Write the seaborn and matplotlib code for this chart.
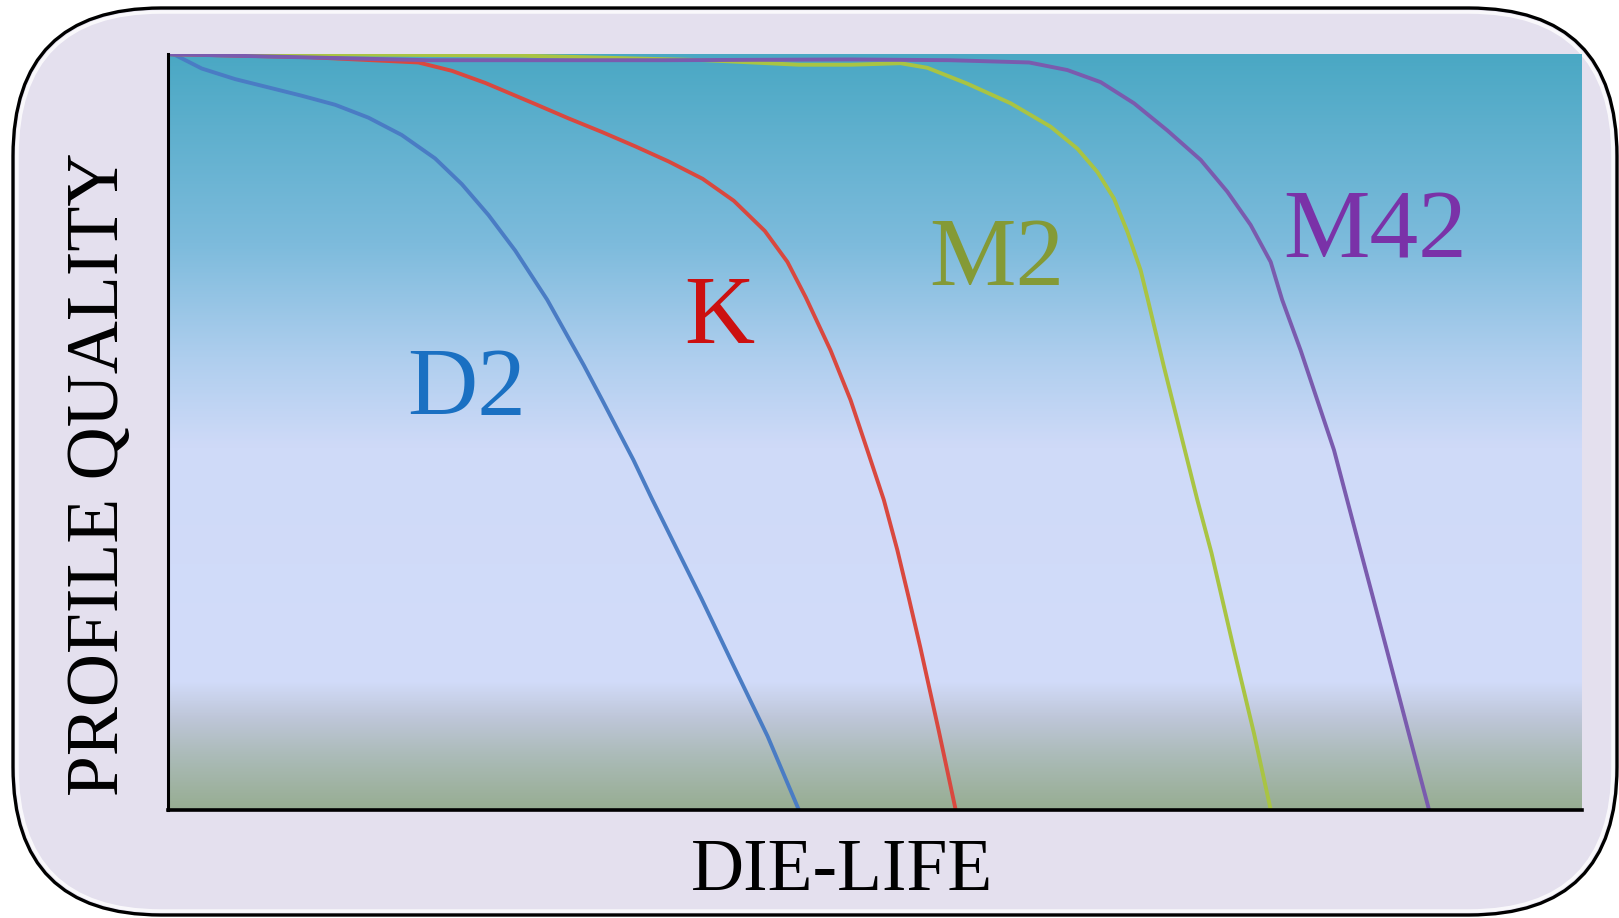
import numpy as np
import pandas as pd
import matplotlib
matplotlib.use("Agg")
import matplotlib.pyplot as plt
import seaborn as sns
from matplotlib.colors import LinearSegmentedColormap
from matplotlib.patches import FancyBboxPatch
from matplotlib.transforms import IdentityTransform

# die life (x) vs profile quality (y), both 0..100
d2_x = [0, 0.47, 2.36, 4.72, 7.08, 9.43, 11.8, 14.15, 16.51, 18.87, 20.76, 22.65, 24.54,
        26.8, 29.4, 30.7, 32.9, 34.2, 36.0, 37.7, 40.0, 42.4, 44.6]
d2_y = [100, 99.9, 98.1, 96.7, 95.6, 94.5, 93.3, 91.6, 89.3, 86.2, 82.8, 78.7, 74.0,
        67.5, 58.8, 54.2, 46.3, 41.2, 34.4, 28.0, 19.0, 9.7, 0]

k_x = [0, 10, 17.69, 20.05, 22.41, 25.95, 28.31, 30.67, 33.03, 35.39, 37.8, 40.0, 42.2,
       43.8, 45.1, 46.85, 48.27, 49.45, 50.62, 51.57, 52.39, 53.2, 54.5, 55.7]
k_y = [100, 99.6, 98.9, 97.8, 96.2, 93.4, 91.5, 89.7, 87.8, 85.8, 83.5, 80.6, 76.6,
       72.5, 67.8, 60.8, 54.2, 47.6, 41.0, 34.4, 28.0, 21.5, 10.5, 0]

m2_x = [0, 10, 25, 38, 44.6, 48.3, 51.8, 53.69, 56.52, 59.59, 62.42, 64.31, 65.73, 66.9,
        67.85, 68.79, 69.3, 70.44, 71.62, 72.8, 73.8, 75.39, 76.81, 77.99]
m2_y = [100, 100, 99.8, 99.2, 98.6, 98.6, 98.8, 98.2, 96.1, 93.5, 90.4, 87.5, 84.4, 80.9,
        76.5, 71.4, 67.5, 58.6, 49.8, 41.0, 34.0, 21.2, 10.1, 0]

m42_x = [0, 18.4, 35, 48.27, 55.3, 60.9, 63.6, 65.96, 68.32, 70.68, 73.04, 74.92, 76.57,
         77.99, 78.8, 80.11, 81.29, 82.47, 83.4, 84.33, 85.24, 86.2, 87.76, 89.19]
m42_y = [100, 99.2, 99.2, 99.3, 99.2, 98.9, 97.9, 96.3, 93.5, 89.9, 86.0, 81.8, 77.4,
         72.5, 67.5, 60.8, 54.2, 47.6, 41.0, 34.4, 28.0, 21.2, 10.1, 0]

steels = ["D2", "K", "M2", "M42"]
line_colors = ["#4A7CC4", "#D9483F", "#A9C443", "#7A5BAE"]
text_colors = ["#1A70C2", "#CC1010", "#849A36", "#7A32A8"]
label_x = [21.1, 39.0, 58.6, 85.4]
label_y = [55.3, 64.9, 72.5, 76.2]

rows = []
for name, xs, ys in zip(steels, [d2_x, k_x, m2_x, m42_x], [d2_y, k_y, m2_y, m42_y]):
    for a, b in zip(xs, ys):
        rows.append({"steel": name, "life": a, "quality": b})
df = pd.DataFrame(rows)

sns.set_style("white")
plt.rcParams['font.family'] = ['Liberation Serif', 'DejaVu Serif']

fig = plt.figure(figsize=(16.19, 9.18), dpi=100)
fig.patch.set_facecolor("white")

# rounded frame behind everything
frame = FancyBboxPatch((13, 3), 1604, 907, boxstyle="round,pad=0,rounding_size=148",
                       transform=IdentityTransform(), facecolor="#E4E0EE",
                       edgecolor="black", linewidth=2.4, zorder=-5)
fig.patches.append(frame)
glow = FancyBboxPatch((17, 7), 1596, 899, boxstyle="round,pad=0,rounding_size=144",
                      transform=IdentityTransform(), facecolor="none",
                      edgecolor="white", linewidth=2.5, alpha=0.8, zorder=-4)
fig.patches.append(glow)

ax = fig.add_axes([0.104, 0.118, 0.873, 0.823])
ax.set_xlim(0, 100)
ax.set_ylim(0, 100)

# vertical background gradient
grad_cmap = LinearSegmentedColormap.from_list("bg", [
    (0.0, "#4AA8C4"),
    (0.25, "#7DBBDC"),
    (0.40, "#AECEEE"),
    (0.52, "#CFDAF8"),
    (0.83, "#D2DCFA"),
    (0.88, "#BEC6D8"),
    (0.93, "#ABBBB8"),
    (1.0, "#97AD92"),
])
ax.imshow(np.linspace(0, 1, 256).reshape(-1, 1), cmap=grad_cmap, aspect="auto",
          extent=[0, 100, 0, 100], origin="upper", zorder=0)

sns.lineplot(data=df, x="life", y="quality", hue="steel", palette=line_colors,
             linewidth=2.8, legend=False, ax=ax, sort=False, estimator=None)
for ln in ax.lines:
    ln.set_solid_joinstyle("round")

for name, tx, ty, c in zip(steels, label_x, label_y, text_colors):
    ax.text(tx, ty, name, color=c, fontsize=70, ha="center", va="center")

for s in ["top", "right"]:
    ax.spines[s].set_visible(False)
ax.spines["left"].set_linewidth(2.2)
ax.spines["bottom"].set_linewidth(2.6)
ax.spines["left"].set_color("black")
ax.spines["bottom"].set_color("black")
ax.set_xticks([])
ax.set_yticks([])
ax.set_xlabel("")
ax.set_ylabel("")

fig.text(0.062, 0.483, "PROFILE QUALITY", rotation=90, fontsize=53,
         ha="center", va="center", color="black")
fig.text(0.520, 0.050, "DIE-LIFE", fontsize=53, ha="center", va="center", color="black")

fig.savefig("out.png", dpi=100, facecolor=fig.get_facecolor())
